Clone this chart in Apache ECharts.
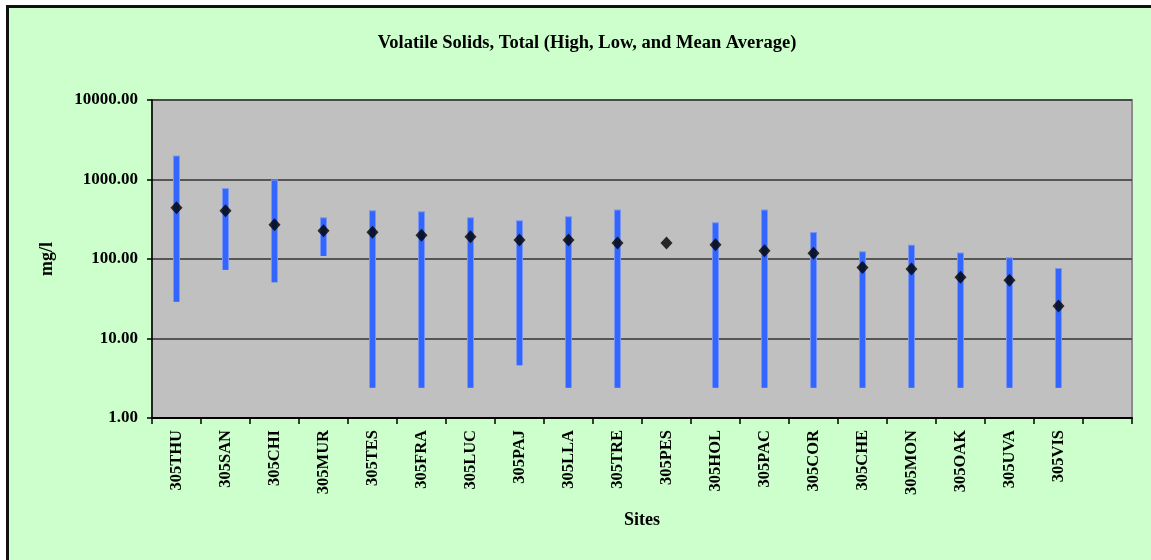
<!DOCTYPE html>
<html><head><meta charset="utf-8">
<script src="https://cdn.jsdelivr.net/npm/echarts@6/dist/echarts.min.js"></script>
<style>html,body{margin:0;padding:0;background:#fff;}#c{width:1151px;height:560px;}</style>
</head><body><div id="c"></div>
<script>
const sites = ['305THU','305SAN','305CHI','305MUR','305TES','305FRA','305LUC','305PAJ','305LLA','305TRE','305PES','305HOL','305PAC','305COR','305CHE','305MON','305OAK','305UVA','305VIS',''];
const highVals = [2000, 780, 1000, 335, 410, 400, 335, 307, 344, 420, null, 290, 420, 219, 125, 151, 121, 105, 77, null];
const lowVals  = [29, 73, 51, 109, 2.4, 2.4, 2.4, 4.6, 2.4, 2.4, null, 2.4, 2.4, 2.4, 2.4, 2.4, 2.4, 2.4, 2.4, null];
const meanVals = [442, 405, 270, 227, 217, 199, 191, 173, 173, 159, 159, 151, 127, 118, 78, 75, 59, 54, 25.6, null];
const yTicks = [1, 10, 100, 1000, 10000];

const FONT = '"Liberation Serif", "Times New Roman", serif';
const chart = echarts.init(document.getElementById('c'), null, {renderer: 'canvas'});
const rangeData = sites.map((s, i) => [i, lowVals[i], highVals[i]]);

chart.setOption({
  backgroundColor: '#ccffcc',
  animation: false,
  title: {
    text: 'Volatile Solids, Total (High, Low, and Mean Average)',
    left: 582, top: 29, textAlign: 'center',
    textStyle: {fontFamily: FONT, fontWeight: 'bold', fontSize: 18.5, color: '#000'}
  },
  graphic: [
    {type: 'rect', shape: {x: 0, y: 0, width: 1151, height: 5}, style: {fill: '#fff'}, silent: true},
    {type: 'rect', shape: {x: 0, y: 0, width: 6, height: 560}, style: {fill: '#fff'}, silent: true},
    {type: 'rect', shape: {x: 6, y: 5, width: 1145, height: 3}, style: {fill: '#111'}, silent: true},
    {type: 'rect', shape: {x: 6, y: 5, width: 3, height: 555}, style: {fill: '#111'}, silent: true},
    {type: 'text', x: 47, y: 259, rotation: Math.PI / 2, style: {text: 'mg/l', fontFamily: FONT, fontWeight: 'bold', fontSize: 18, fill: '#000', textAlign: 'center', textVerticalAlign: 'middle'}},
    {type: 'text', x: 642, y: 520, style: {text: 'Sites', fontFamily: FONT, fontWeight: 'bold', fontSize: 18, fill: '#000', textAlign: 'center', textVerticalAlign: 'middle'}}
  ],
  grid: {left: 152, top: 100, right: 19, bottom: 142, show: true, backgroundColor: '#c0c0c0', borderColor: '#8c8c8c', borderWidth: 2},
  xAxis: {
    type: 'category', data: sites, boundaryGap: true,
    axisLine: {lineStyle: {color: '#000', width: 2}},
    axisTick: {show: true, alignWithLabel: false, length: 6, lineStyle: {color: '#000', width: 1.5}},
    axisLabel: {rotate: 90, interval: 0, margin: 12, fontFamily: FONT, fontWeight: 'bold', fontSize: 16.5, color: '#000'},
    splitLine: {show: false}
  },
  yAxis: {
    type: 'log', logBase: 10, min: yTicks[0], max: yTicks[yTicks.length - 1],
    axisLine: {show: true, lineStyle: {color: '#000', width: 1.5}},
    axisTick: {show: true, length: 5, lineStyle: {color: '#000', width: 1.5}},
    axisLabel: {margin: 14, fontFamily: FONT, fontWeight: 'bold', fontSize: 17, color: '#000', formatter: v => Number(v).toFixed(2)},
    splitLine: {show: true, lineStyle: {color: '#333', width: 1.5}},
    minorTick: {show: false}
  },
  series: [
    {
      type: 'custom', name: 'range', data: rangeData, z: 2,
      renderItem: function (params, api) {
        const lo = api.value(1), hi = api.value(2);
        if (lo == null || hi == null || isNaN(lo) || isNaN(hi)) return null;
        const p1 = api.coord([api.value(0), hi]);
        const p2 = api.coord([api.value(0), lo]);
        return {
          type: 'group', children: [
            {type: 'rect', shape: {x: p1[0] - 3.5, y: p1[1], width: 7, height: p2[1] - p1[1]}, style: {fill: '#7a96f0'}},
            {type: 'rect', shape: {x: p1[0] - 2.5, y: p1[1] + 1, width: 5, height: p2[1] - p1[1] - 1}, style: {fill: '#3366ff'}}
          ]
        };
      },
      encode: {x: 0, y: [1, 2]}
    },
    {
      type: 'scatter', name: 'mean', data: meanVals, z: 3,
      symbol: 'diamond', symbolSize: [12, 13],
      itemStyle: {color: '#000'}
    }
  ]
});
</script></body></html>
